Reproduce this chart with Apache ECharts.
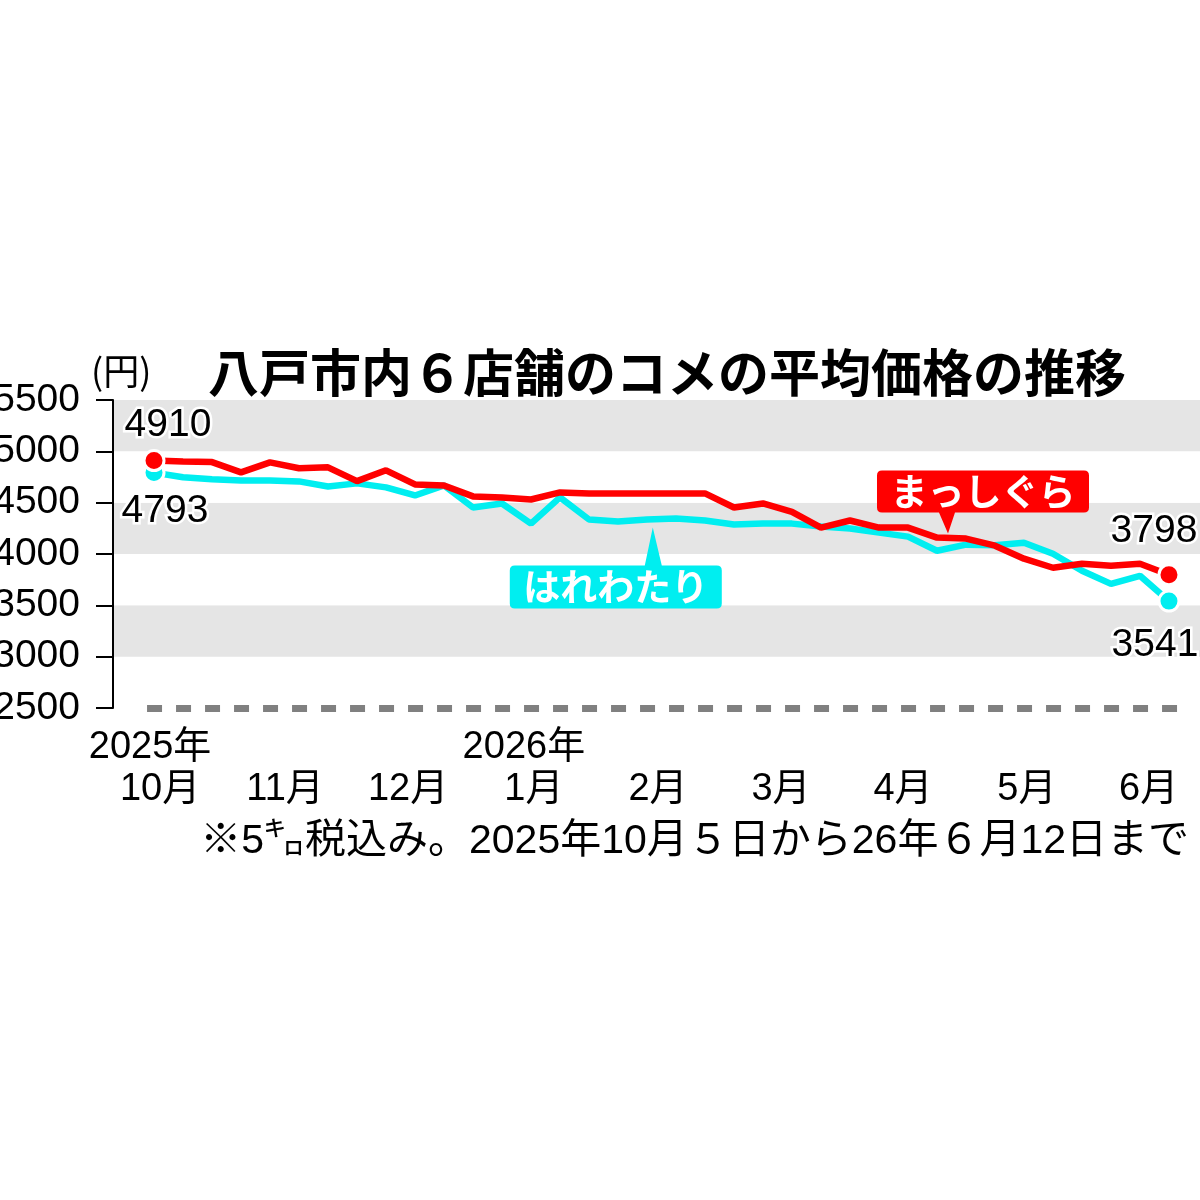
<!DOCTYPE html>
<html><head><meta charset="utf-8">
<script src="https://cdn.jsdelivr.net/npm/echarts@6/dist/echarts.min.js"></script>
<style>html,body{margin:0;padding:0;background:#fff}#c{width:1200px;height:1200px}</style>
</head><body><div id="c"></div>
<script>
const dates = ["10/5","10/12","10/19","10/26","11/2","11/9","11/16","11/23","11/30","12/7","12/14","12/21","12/28","1/4","1/11","1/18","1/25","2/1","2/8","2/15","2/22","3/1","3/8","3/15","3/22","3/29","4/5","4/12","4/19","4/26","5/3","5/10","5/17","5/24","5/31","6/12"];
const masshigura = [4910,4900,4895,4795,4893,4835,4844,4710,4815,4678,4668,4561,4551,4531,4600,4590,4590,4590,4590,4590,4453,4492,4410,4257,4326,4257,4257,4160,4150,4081,3954,3866,3905,3886,3905,3798];
const harewatari = [4793,4747,4727,4717,4717,4707,4658,4688,4649,4570,4668,4453,4492,4296,4551,4336,4316,4336,4345,4326,4287,4296,4296,4267,4248,4208,4169,4032,4091,4085,4110,4003,3837,3709,3788,3541];
const monthLabels = ["10月","11月","12月","1月","2月","3月","4月","5月","6月"];
const monthPos = [0.21,4.52,8.76,13.1,17.38,21.62,25.83,30.1,34.3];
const yearLabels = {0:"2025年",3:"2026年"};
const seriesNames = ["はれわたり","まっしぐら"];

const NUM = "'Liberation Sans','Noto Sans CJK JP',sans-serif";
const JP = "'Noto Sans CJK JP',sans-serif";
const RED = '#ff0000', CYAN = '#00eef0';
const last = dates.length - 1;

function mkData(vals, firstLbl, lastLbl){
  return vals.map((v,i)=>{
    const it = {value:[i,v]};
    if(i===0) it.label = firstLbl;
    if(i===last) it.label = lastLbl;
    return it;
  });
}
const numLabel = {show:true, fontFamily:NUM, fontSize:39, color:'#000', textBorderColor:'#fff', textBorderWidth:5, formatter:p=>String(p.value[1])};

const boxRed = 'path://M5 0H207Q212 0 212 5V37Q212 42 207 42H78L71 63L62 42H5Q0 42 0 37V5Q0 0 5 0Z';
const boxCyan = 'path://M143 0L152 38H207Q212 38 212 43V76Q212 81 207 81H5Q0 81 0 76V43Q0 38 5 38H135Z';

const lblText = {fontFamily:NUM, fontSize:38, lineHeight:42, color:'#000'};

const chart = echarts.init(document.getElementById('c'));
chart.setOption({
  animation:false,
  backgroundColor:'#fff',
  title:[
    {text:'八戸市内６店舗のコメの平均価格の推移', left:203, top:342, textStyle:{fontFamily:JP, fontWeight:'bold', fontSize:51, color:'#000'}},
    {text:'(円)', left:86, top:348, textStyle:{fontFamily:JP, fontWeight:'normal', fontSize:36, color:'#000'}},
    {text:'※5㌔税込み。2025年10月５日から26年６月12日まで', right:6, top:816, textStyle:{fontFamily:NUM, fontWeight:'normal', fontSize:41, color:'#000'}}
  ],
  grid:{left:113, right:0, top:400, bottom:492, containLabel:false, outerBoundsMode:'none'},
  xAxis:{type:'value', min:-1.414, max:36.07,
    axisLine:{show:false}, axisTick:{show:false}, splitLine:{show:false},
    axisLabel:{customValues:monthPos, margin:19, fontFamily:NUM, fontSize:38, lineHeight:42, color:'#000',
      rich:{y:Object.assign({padding:[0,20,0,0]}, lblText), m:lblText},
      formatter:v=>{const k=monthPos.findIndex(p=>Math.abs(p-v)<1e-6); if(k<0) return ''; return '{y|'+(yearLabels[k]||' ')+'}\n{m|'+monthLabels[k]+'}';}}},
  yAxis:{type:'value', min:2500, max:5500, interval:500,
    axisLine:{show:true, onZero:false, lineStyle:{color:'#000', width:2}},
    axisTick:{show:true, length:17, lineStyle:{color:'#000', width:2}},
    axisLabel:{margin:33, fontFamily:NUM, fontSize:39, color:'#000', formatter:v=>String(v)},
    splitLine:{show:false},
    splitArea:{show:true, areaStyle:{color:['#ffffff','#e5e5e5']}}},
  series:[
    {name:seriesNames[0], type:'line', clip:false, z:3,
      data:mkData(harewatari,
        Object.assign({}, numLabel, {position:'bottom', distance:8, offset:[11,0]}),
        Object.assign({}, numLabel, {position:'bottom', distance:13, offset:[-14,0]})),
      symbol:'circle', symbolSize:(v,p)=> (p.dataIndex===0||p.dataIndex===last)?20:0,
      itemStyle:{color:CYAN, borderColor:'#fff', borderWidth:3},
      lineStyle:{color:CYAN, width:6.5},
      label:{show:false},
      markLine:{silent:true, symbol:'none', label:{show:false},
        lineStyle:{color:'#808080', width:7, type:[15,14]},
        data:[[{coord:[-0.24,2500]},{coord:[35.75,2500]}]]},
      markPoint:{silent:true, symbol:boxCyan, symbolSize:[212,81], symbolOffset:[-37,40.5],
        itemStyle:{color:CYAN},
        label:{show:true, position:'inside', offset:[0,19], fontFamily:JP, fontWeight:'bold', fontSize:37, color:'#fff', formatter:seriesNames[0]},
        data:[{coord:[17.2,4257]}]}
    },
    {name:seriesNames[1], type:'line', clip:false, z:4,
      data:mkData(masshigura,
        Object.assign({}, numLabel, {position:'top', distance:4, offset:[14,0]}),
        Object.assign({}, numLabel, {position:'top', distance:12, offset:[-15,0]})),
      symbol:'circle', symbolSize:(v,p)=> (p.dataIndex===0||p.dataIndex===last)?20:0,
      itemStyle:{color:RED, borderColor:'#fff', borderWidth:3},
      lineStyle:{color:RED, width:6.5},
      label:{show:false},
      markPoint:{silent:true, symbol:boxRed, symbolSize:[212,63], symbolOffset:[35,-31.5],
        itemStyle:{color:RED},
        label:{show:true, position:'inside', offset:[0,-10.5], fontFamily:JP, fontWeight:'bold', fontSize:37, color:'#fff', formatter:seriesNames[1]},
        data:[{coord:[27.38,4200]}]}
    }
  ]
});
</script></body></html>
